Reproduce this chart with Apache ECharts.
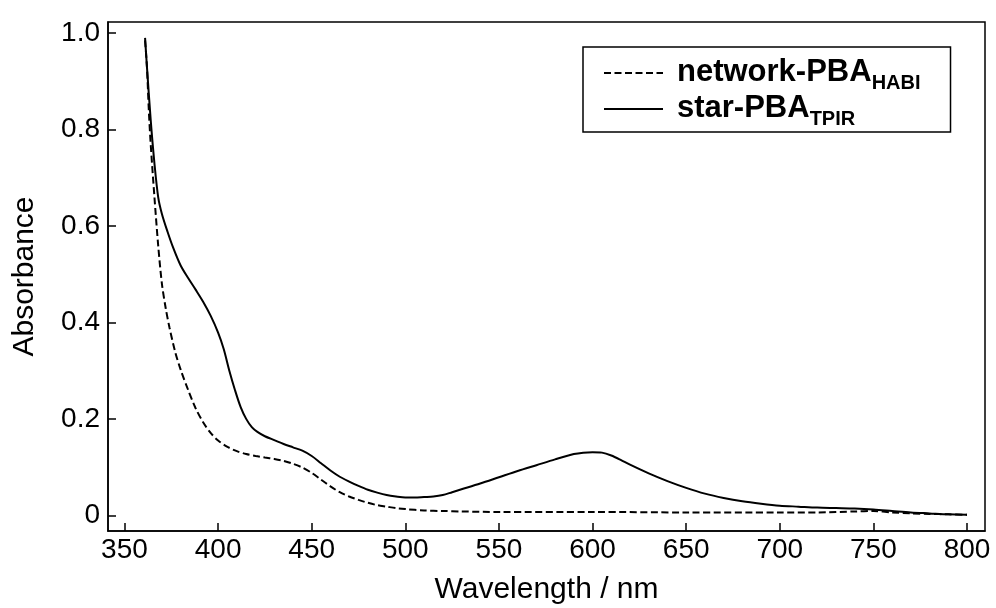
<!DOCTYPE html>
<html>
<head>
<meta charset="utf-8">
<script src="https://cdn.jsdelivr.net/npm/echarts@6/dist/echarts.min.js"></script>
<style>
html,body{margin:0;padding:0;background:#fff;}
#chart{width:996px;height:608px;}
</style>
</head>
<body>
<div id="chart"></div>
<script>
// ---- data ----
const xTicks = [350, 400, 450, 500, 550, 600, 650, 700, 750, 800];
const yTicks = [0, 0.2, 0.4, 0.6, 0.8, 1.0];

const starWl = [361,362,364,366,368,370,373,376,380,384,388,392,396,400,403,406,409,412,415,418,421,425,430,435,440,445,450,455,460,465,470,475,480,485,490,495,500,505,510,515,520,525,530,540,550,560,570,580,590,595,600,605,610,615,620,630,640,650,660,670,680,690,700,710,720,730,740,750,760,770,780,790,800];
const starAbs = [0.99,0.93,0.82,0.73,0.66,0.625,0.588,0.555,0.518,0.492,0.468,0.443,0.414,0.379,0.345,0.300,0.26,0.225,0.200,0.183,0.173,0.164,0.156,0.148,0.141,0.134,0.123,0.108,0.093,0.080,0.070,0.061,0.053,0.047,0.042,0.039,0.037,0.037,0.038,0.039,0.042,0.048,0.054,0.066,0.079,0.092,0.104,0.116,0.127,0.130,0.131,0.130,0.124,0.115,0.105,0.087,0.071,0.057,0.045,0.036,0.029,0.024,0.020,0.018,0.016,0.015,0.014,0.012,0.009,0.006,0.004,0.002,0.001];

const netWl = [361,362,363,364,366,368,370,372,374,377,380,384,388,392,396,400,405,410,415,420,425,430,435,440,445,450,455,460,465,470,475,480,485,490,495,500,510,520,530,550,600,650,700,720,740,750,760,770,780,790,800];
const netAbs = [0.985,0.93,0.84,0.77,0.66,0.56,0.48,0.43,0.39,0.34,0.302,0.26,0.222,0.193,0.171,0.155,0.142,0.133,0.127,0.123,0.120,0.117,0.113,0.107,0.099,0.088,0.074,0.060,0.048,0.039,0.032,0.026,0.021,0.018,0.015,0.013,0.010,0.009,0.008,0.007,0.007,0.006,0.006,0.006,0.008,0.009,0.006,0.004,0.003,0.002,0.001];

const seriesNames = ['network-PBA', 'star-PBA'];
const seriesSubs = ['HABI', 'TPIR'];

// ---- chart ----
const pairs = (xs, ys) => xs.map((x, i) => [x, ys[i]]);
const chart = echarts.init(document.getElementById('chart'), null, {renderer: 'canvas'});
const FONT = '"Liberation Sans", Arial, sans-serif';

chart.setOption({
  animation: false,
  backgroundColor: '#fff',
  grid: {
    left: 108, right: 11, top: 22, bottom: 77,
    outerBoundsMode: 'none',
    containLabel: false,
    show: true, borderColor: '#000', borderWidth: 1.5, backgroundColor: 'transparent'
  },
  legend: {
    orient: 'vertical',
    left: 583, top: 47,
    padding: [10, 30, 3, 20],
    itemGap: 0,
    itemWidth: 59, itemHeight: 14,
    borderColor: '#000', borderWidth: 1.5,
    backgroundColor: '#fff',
    itemStyle: {opacity: 0},
    data: seriesNames,
    formatter: function (name) {
      const i = seriesNames.indexOf(name);
      return '{b|' + name + '}{s|' + seriesSubs[i] + '}';
    },
    textStyle: {
      fontFamily: FONT,
      rich: {
        b: {fontSize: 31, fontWeight: 'bold', color: '#000', fontFamily: FONT, padding: [0, 0, 0, 9], lineHeight: 32, verticalAlign: 'top'},
        s: {fontSize: 20, fontWeight: 'bold', color: '#000', fontFamily: FONT, padding: [16, 0, 0, 0], lineHeight: 20, verticalAlign: 'top'}
      }
    }
  },
  xAxis: {
    type: 'value',
    min: 341.2, max: 809.6,
    name: 'Wavelength / nm',
    nameLocation: 'middle',
    nameGap: 44,
    nameTextStyle: {fontFamily: FONT, fontSize: 30, color: '#000'},
    axisLine: {show: true, onZero: false, lineStyle: {color: '#000', width: 1.5}},
    axisTick: {show: true, inside: true, length: 8, customValues: xTicks, lineStyle: {color: '#000', width: 1.5}},
    axisLabel: {show: true, customValues: xTicks, fontFamily: FONT, fontSize: 28, color: '#000', margin: 5},
    splitLine: {show: false}
  },
  yAxis: {
    type: 'value',
    min: -0.0325, max: 1.023,
    name: 'Absorbance',
    nameLocation: 'middle',
    nameGap: 68,
    nameTextStyle: {fontFamily: FONT, fontSize: 30, color: '#000'},
    axisLine: {show: true, onZero: false, lineStyle: {color: '#000', width: 1.5}},
    axisTick: {show: true, inside: true, length: 8, customValues: yTicks, lineStyle: {color: '#000', width: 1.5}},
    axisLabel: {
      show: true, customValues: yTicks, fontFamily: FONT, fontSize: 28, color: '#000', margin: 8,
      formatter: v => (Math.abs(v) < 1e-9 ? '0' : v.toFixed(1))
    },
    splitLine: {show: false}
  },
  series: [
    {
      name: seriesNames[0], type: 'line',
      data: pairs(netWl, netAbs),
      showSymbol: false, symbol: 'none',
      smooth: 0.3,
      color: '#000',
      lineStyle: {color: '#000', width: 2, type: [7, 3.5]},
      z: 3
    },
    {
      name: seriesNames[1], type: 'line',
      data: pairs(starWl, starAbs),
      showSymbol: false, symbol: 'none',
      smooth: 0.3,
      color: '#000',
      lineStyle: {color: '#000', width: 2, type: 'solid'},
      z: 2
    }
  ]
});
</script>
</body>
</html>
